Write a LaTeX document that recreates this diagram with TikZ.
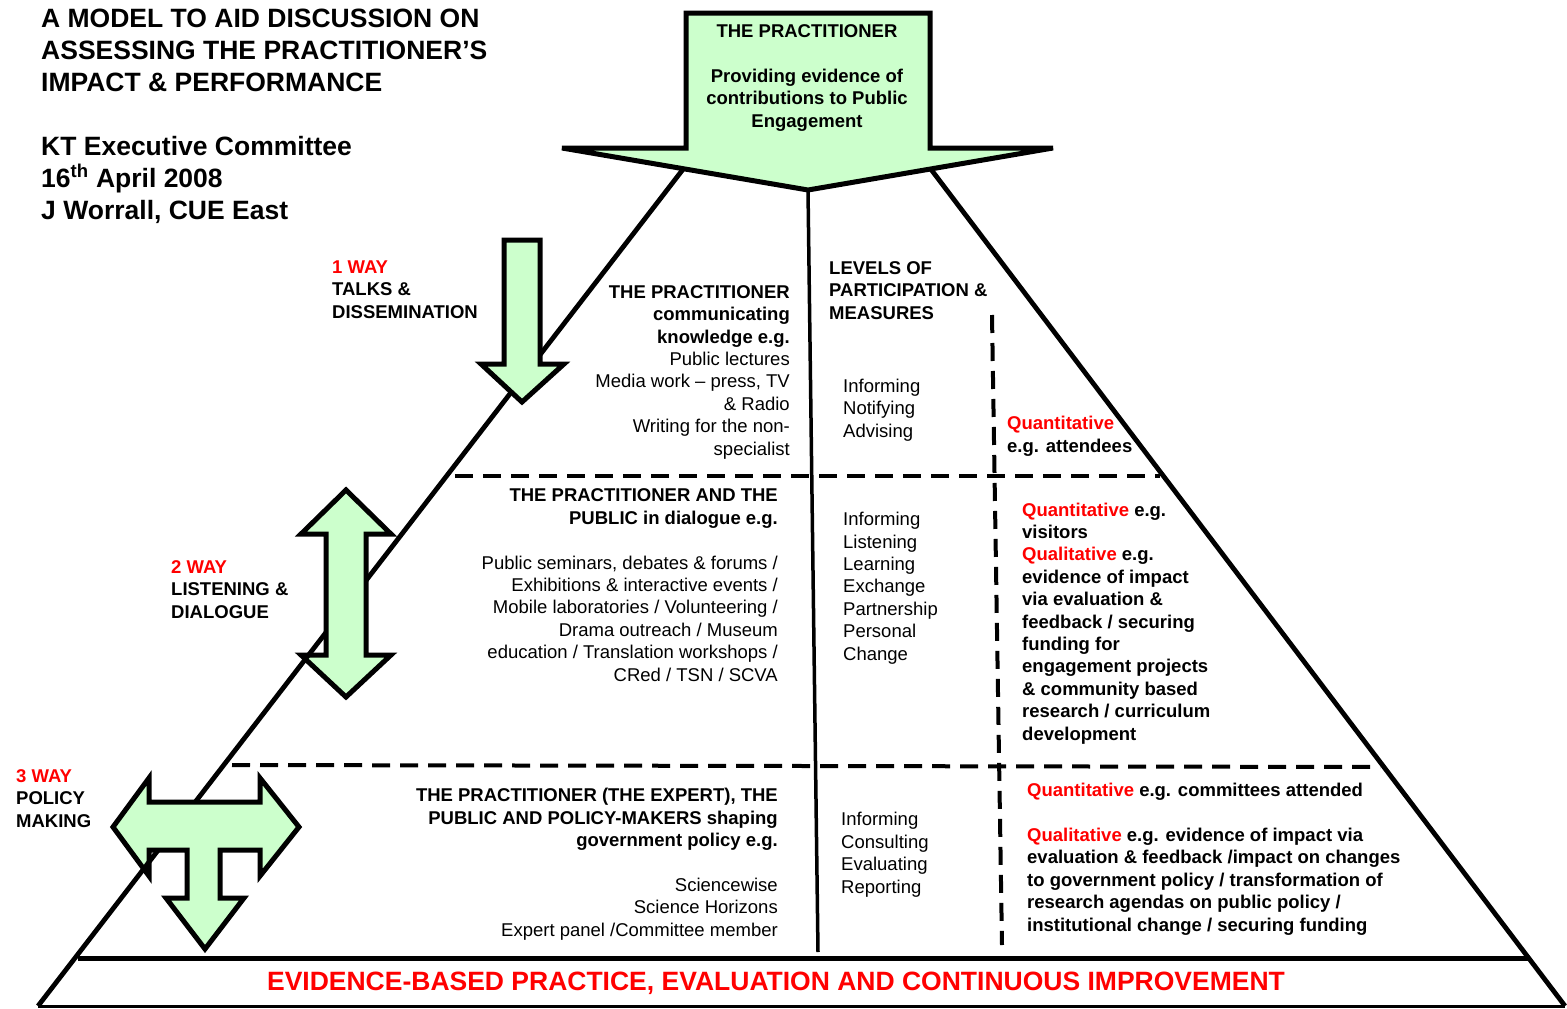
\documentclass[tikz,border=0pt]{standalone}
\usepackage{fontspec}
\setmainfont{Liberation Sans}
\usetikzlibrary{calc}
\definecolor{agreen}{HTML}{CCFFCC}
\newcommand\fsA{\fontsize{18.5}{22.4}\selectfont}
\newcommand\fsB{\fontsize{26.5}{32}\selectfont}
\begin{document}
\begin{tikzpicture}[x=1pt,y=-1pt,
  side/.style={line width=4.8pt},
  tier/.style={line width=4pt, dash pattern=on 18pt off 10pt},
  arr/.style={draw=black, fill=agreen, line width=5pt, line join=miter},
  txt/.style={inner sep=0pt, font=\fsA},
  txtb/.style={inner sep=0pt, font=\fsA\bfseries},
  big/.style={inner sep=0pt, font=\fsB\bfseries},
]
\useasboundingbox (0,0) rectangle (1567,1009);
\fill[white] (0,0) rectangle (1567,1009);

% pyramid geometry
\coordinate (TL) at (684,168);
\coordinate (TR) at (930,168);
\coordinate (BL) at (38,1006);
\coordinate (BR) at (1565,1006);
\coordinate (apex) at (808,190);
\coordinate (cbot) at (818,952);
\coordinate (b1) at (78,958);
\coordinate (b2) at (1530,958);
\coordinate (d1l) at (455,476);
\coordinate (d1r) at (1160,476);
\coordinate (d2l) at (232,765);
\coordinate (d2r) at (1380,767);
\coordinate (vt) at (992,315);
\coordinate (vb) at (1002,945);

\draw[side] (TL) -- (BL);
\draw[side] (TR) -- (BR);
\draw[line width=3pt] (BL) -- (BR);
\draw[line width=5pt] (b1) -- (b2);
\draw[line width=3.5pt] (apex) -- (cbot);
\draw[tier] (d1l) -- (d1r);
\draw[tier] (d2l) -- (d2r);
\draw[tier] (vt) -- (vb);

% big arrow
\draw[arr] (686,13) -- (930,13) -- (930,148) -- (1053,148) -- (808,190) -- (562,148) -- (686,148) -- cycle;

% 1-way arrow
\draw[arr] (504,240) -- (540,240) -- (540,364) -- (564,364) -- (522,402) -- (481,364) -- (504,364) -- cycle;

% 2-way arrow
\draw[arr] (346,490) -- (391,534) -- (366,534) -- (366,655) -- (391,655) -- (346,697) -- (301,655) -- (326,655) -- (326,534) -- (301,534) -- cycle;

% 3-way arrow
\draw[arr] (113,827) -- (149,778) -- (149,802) -- (260,802) -- (260,778) -- (299,827) -- (260,876) -- (260,850) -- (220,850) -- (220,898) -- (244,898) -- (205,949) -- (166,898) -- (187,898) -- (187,850) -- (149,850) -- (149,876) -- cycle;

% side line showing over the arrow heads
\begin{scope}
\clip (301,655) -- (391,655) -- (346,697) -- cycle;
\draw[side] (TL) -- (BL);
\end{scope}
\begin{scope}
\clip (149,778) -- (113,827) -- (149,876) -- cycle;
\draw[side] (TL) -- (BL);
\end{scope}

% texts (base anchor = baseline of the last line)
\node[txtb, anchor=base, align=center] (pract) at (807,127) {THE PRACTITIONER\\[22.4pt] Providing evidence of\\ contributions to Public\\ Engagement};

\node[big, anchor=base west, align=left] (title) at (41,219) {A MODEL TO AID DISCUSSION ON\\ ASSESSING THE PRACTITIONER’S\\ IMPACT \& PERFORMANCE\\[32pt] KT Executive Committee\\ 16\textsuperscript{th} April 2008\\ J Worrall, CUE East};

\node[txtb, anchor=base west, align=left] (one) at (332,318) {\textcolor{red}{1 WAY}\\ TALKS \&\\ DISSEMINATION};
\node[txtb, anchor=base west, align=left] (two) at (171,618) {\textcolor{red}{2 WAY}\\ LISTENING \&\\ DIALOGUE};
\node[txtb, anchor=base west, align=left] (three) at (16,827) {\textcolor{red}{3 WAY}\\ POLICY\\ MAKING};

\node[txt, anchor=base east, align=right] (t1) at (790,455) {\textbf{THE PRACTITIONER}\\ \textbf{communicating}\\ \textbf{knowledge e.g.}\\ Public lectures\\ Media work – press, TV\\ \& Radio\\ Writing for the non-\\ specialist};
\node[txtb, anchor=base west, align=left] (lev) at (829,319) {LEVELS OF\\ PARTICIPATION \&\\ MEASURES};
\node[txt, anchor=base west, align=left] (m1) at (843,437) {Informing\\ Notifying\\ Advising};
\node[txtb, anchor=base west, align=left] (q1) at (1007,452) {\textcolor{red}{Quantitative}\\ e.g. attendees};

\node[txt, anchor=base east, align=right] (t2) at (778,681) {\textbf{THE PRACTITIONER AND THE}\\ \textbf{PUBLIC in dialogue e.g.}\\[22.4pt] Public seminars, debates \& forums /\\ Exhibitions \& interactive events /\\ Mobile laboratories / Volunteering /\\ Drama outreach / Museum\\ education / Translation workshops /\\ CRed / TSN / SCVA};
\node[txt, anchor=base west, align=left] (m2) at (843,660) {Informing\\ Listening\\ Learning\\ Exchange\\ Partnership\\ Personal\\ Change};
\node[txtb, anchor=base west, align=left] (q2) at (1022,740) {\textcolor{red}{Quantitative} e.g.\\ visitors\\ \textcolor{red}{Qualitative} e.g.\\ evidence of impact\\ via evaluation \&\\ feedback / securing\\ funding for\\ engagement projects\\ \& community based\\ research / curriculum\\ development};

\node[txt, anchor=base east, align=right] (t3) at (778,936) {\textbf{THE PRACTITIONER (THE EXPERT), THE}\\ \textbf{PUBLIC AND POLICY-MAKERS shaping}\\ \textbf{government policy e.g.}\\[22.4pt] Sciencewise\\ Science Horizons\\ Expert panel /Committee member};
\node[txt, anchor=base west, align=left] (m3) at (841,893) {Informing\\ Consulting\\ Evaluating\\ Reporting};
\node[txtb, anchor=base west, align=left] (q3) at (1027,931) {\textcolor{red}{Quantitative} e.g. committees attended\\[22.4pt] \textcolor{red}{Qualitative} e.g. evidence of impact via\\ evaluation \& feedback /impact on changes\\ to government policy / transformation of\\ research agendas on public policy /\\ institutional change / securing funding};

\node[big, anchor=base, text=red] (ebp) at (776,990) {EVIDENCE-BASED PRACTICE, EVALUATION AND CONTINUOUS IMPROVEMENT};
\end{tikzpicture}
\end{document}
